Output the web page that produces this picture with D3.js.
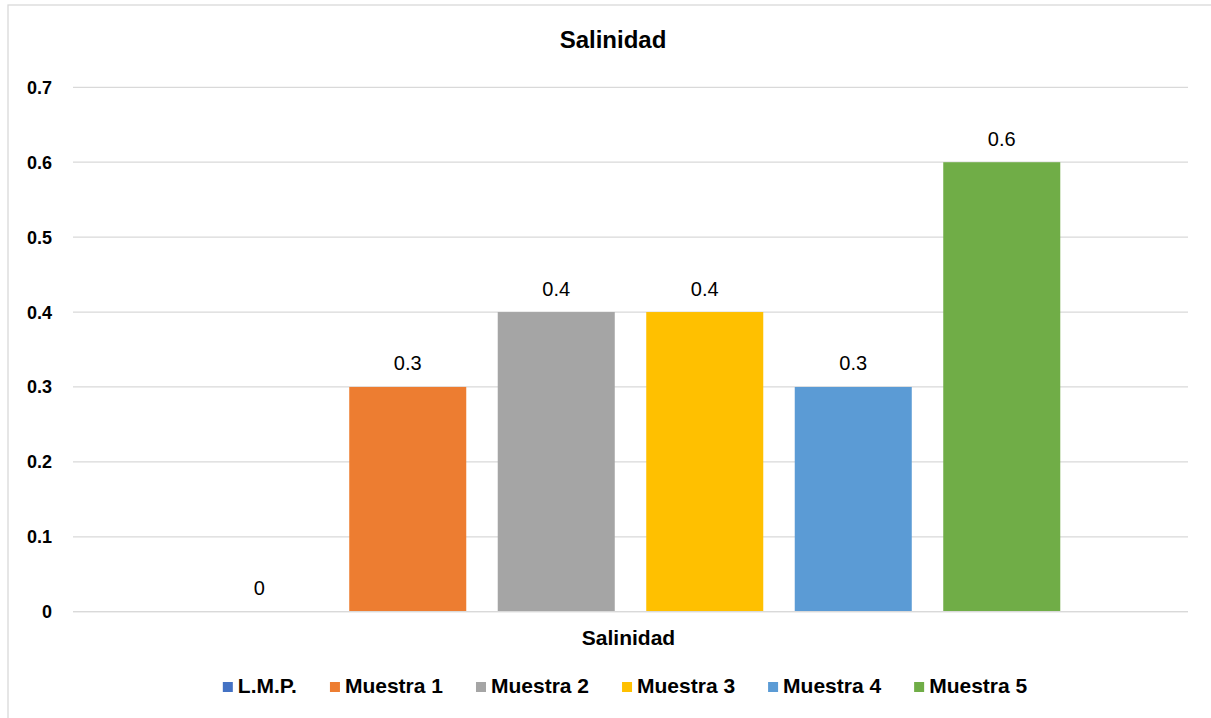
<!DOCTYPE html>
<html>
<head>
<meta charset="utf-8">
<script src="https://cdn.jsdelivr.net/npm/d3@7"></script>
<style>
  html, body { margin: 0; padding: 0; background: #ffffff; }
  svg { display: block; font-family: "Liberation Sans", Arial, sans-serif; }
</style>
</head>
<body>
<svg id="chart" width="1211" height="718"></svg>
<script>
const chartTitle = "Salinidad";
const categories = ["Salinidad"];
const seriesNames = ["L.M.P.", "Muestra 1", "Muestra 2", "Muestra 3", "Muestra 4", "Muestra 5"];
const seriesValues = [0, 0.3, 0.4, 0.4, 0.3, 0.6];
const seriesColors = ["#4472C4", "#ED7D31", "#A5A5A5", "#FFC000", "#5B9BD5", "#70AD47"];
const yTicks = [0, 0.1, 0.2, 0.3, 0.4, 0.5, 0.6, 0.7];

const svg = d3.select("#chart");
const W = 1211, H = 718;
const plot = { left: 73, right: 1188, top: 87.3, bottom: 611.7 };

// chart border
svg.append("rect")
  .attr("x", 8).attr("y", 5)
  .attr("width", W + 20).attr("height", H + 20)
  .attr("fill", "#ffffff")
  .attr("stroke", "#d9d9d9").attr("stroke-width", 1.3);

const y = d3.scaleLinear().domain([0, 0.7]).range([plot.bottom, plot.top]);
const x0 = d3.scaleBand().domain(categories).range([plot.left, plot.right]).paddingInner(0).paddingOuter(0.1486);
const x1 = d3.scaleBand().domain(seriesNames).range([0, x0.bandwidth()]).paddingInner(0.212).paddingOuter(0);

// gridlines
svg.append("g").selectAll("line").data(yTicks).join("line")
  .attr("x1", plot.left).attr("x2", plot.right)
  .attr("y1", d => y(d)).attr("y2", d => y(d))
  .attr("stroke", "#d9d9d9").attr("stroke-width", 1.3);

// y tick labels
svg.append("g").selectAll("text").data(yTicks).join("text")
  .attr("x", 52).attr("y", d => y(d) + 6.5)
  .attr("text-anchor", "end")
  .attr("font-size", 18).attr("font-weight", "bold").attr("fill", "#000")
  .text(d => d3.format("")(+d.toFixed(1)));

// bars
const data = seriesNames.map((s, i) => ({ cat: categories[0], name: s, value: seriesValues[i], color: seriesColors[i] }));
const g = svg.append("g");
g.selectAll("rect").data(data).join("rect")
  .attr("x", d => x0(d.cat) + x1(d.name))
  .attr("y", d => y(d.value))
  .attr("width", x1.bandwidth())
  .attr("height", d => y(0) - y(d.value))
  .attr("fill", d => d.color);

// data labels
g.selectAll("text").data(data).join("text")
  .attr("x", d => x0(d.cat) + x1(d.name) + x1.bandwidth() / 2)
  .attr("y", d => y(d.value) - 16.5)
  .attr("text-anchor", "middle")
  .attr("font-size", 20).attr("fill", "#000")
  .text(d => String(d.value));

// axis baseline
svg.append("line")
  .attr("x1", plot.left).attr("x2", plot.right)
  .attr("y1", y(0)).attr("y2", y(0))
  .attr("stroke", "#d9d9d9").attr("stroke-width", 1.3);

// category label
svg.append("text")
  .attr("x", x0(categories[0]) + x0.bandwidth() / 2 - 2)
  .attr("y", 645)
  .attr("text-anchor", "middle")
  .attr("font-size", 21).attr("font-weight", "bold").attr("fill", "#000")
  .text(categories[0]);

// title
svg.append("text")
  .attr("x", 613).attr("y", 48)
  .attr("text-anchor", "middle")
  .attr("font-size", 24).attr("font-weight", "bold").attr("fill", "#000")
  .text(chartTitle);

// legend
const legend = svg.append("g");
const items = legend.selectAll("g").data(data).join("g");
items.append("rect").attr("width", 10).attr("height", 10).attr("y", 682).attr("fill", d => d.color);
items.append("text").attr("x", 15).attr("y", 693)
  .attr("font-size", 21).attr("font-weight", "bold").attr("fill", "#000")
  .text(d => d.name);
let widths = [];
items.each(function () { widths.push(15 + d3.select(this).select("text").node().getComputedTextLength()); });
const gap = 33;
const total = d3.sum(widths) + gap * (widths.length - 1);
let cx = 625 - total / 2;
items.attr("transform", (d, i) => {
  const t = `translate(${cx},0)`;
  cx += widths[i] + gap;
  return t;
});
</script>
</body>
</html>
